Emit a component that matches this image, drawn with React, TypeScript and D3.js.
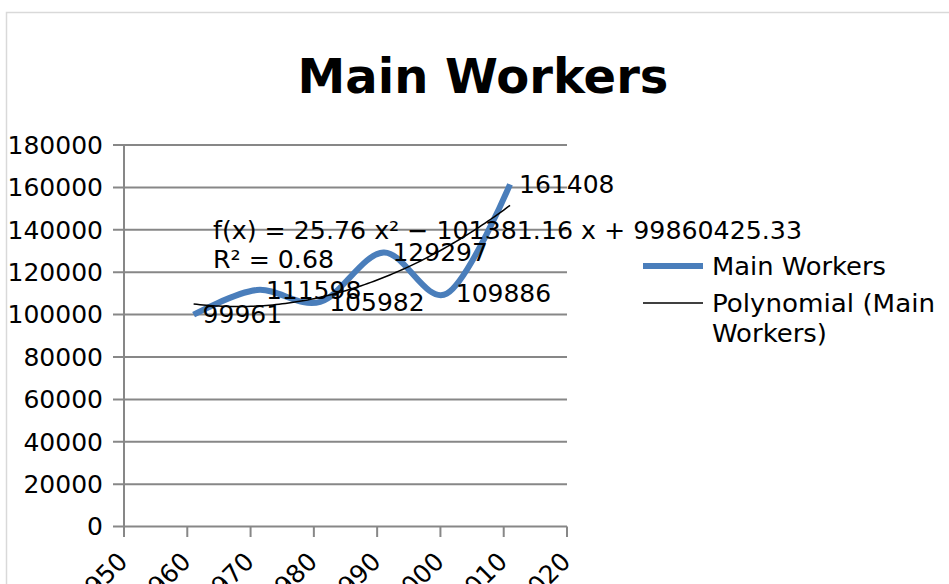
import React from "react";
import * as d3 from "d3";

// Census years and main workers count
const years = [1961, 1971, 1981, 1991, 2001, 2011];
const workers = [99961, 111598, 105982, 129297, 109886, 161408];
const yTicks = [0, 20000, 40000, 60000, 80000, 100000, 120000, 140000, 160000, 180000];
const xTicks = [1950, 1960, 1970, 1980, 1990, 2000, 2010, 2020];
const equationText = "f(x) = 25.76 x² − 101381.16 x + 99860425.33";
const rSquaredText = "R² = 0.68";

const W = 949;
const H = 584;
const FONT = "'DejaVu Sans', sans-serif";
const FS = 25;

// least squares fit of a 2nd order polynomial (centred on mean year)
function fitQuadratic(xs: number[], ys: number[]) {
  const mx = d3.mean(xs) as number;
  const t = xs.map(x => x - mx);
  const n = xs.length;
  const s1 = d3.sum(t);
  const s2 = d3.sum(t, v => v * v);
  const s3 = d3.sum(t, v => v ** 3);
  const s4 = d3.sum(t, v => v ** 4);
  const sy = d3.sum(ys);
  const sty = d3.sum(t.map((v, i) => v * ys[i]));
  const st2y = d3.sum(t.map((v, i) => v * v * ys[i]));
  // solve the 3x3 normal equations (Cramer)
  const A = [
    [n, s1, s2],
    [s1, s2, s3],
    [s2, s3, s4],
  ];
  const B = [sy, sty, st2y];
  const det = (m: number[][]) =>
    m[0][0] * (m[1][1] * m[2][2] - m[1][2] * m[2][1]) -
    m[0][1] * (m[1][0] * m[2][2] - m[1][2] * m[2][0]) +
    m[0][2] * (m[1][0] * m[2][1] - m[1][1] * m[2][0]);
  const D = det(A);
  const coef = [0, 1, 2].map(k => {
    const m = A.map((row, i) => row.map((v, j) => (j === k ? B[i] : v)));
    return det(m) / D;
  });
  return (x: number) => coef[0] + coef[1] * (x - mx) + coef[2] * (x - mx) ** 2;
}

const App = () => {
  const x = d3.scaleLinear().domain([1950, 2020]).range([124, 567]);
  const y = d3.scaleLinear().domain([0, 180000]).range([526.6, 145]);

  const pts: [number, number][] = years.map((yr, i) => [x(yr), y(workers[i])]);
  const smooth = d3.line().curve(d3.curveCardinal.tension(0))(pts) || "";

  const trend = fitQuadratic(years, workers);
  const trendPts: [number, number][] = d3
    .range(years[0], years[years.length - 1] + 0.01, 0.5)
    .map(yr => [x(yr), y(trend(yr))]);
  const trendPath = d3.line()(trendPts) || "";

  const gridColor = "#878787";

  return (
    <svg
      width={W}
      height={H}
      style={{ position: "absolute", left: 0, top: 0, background: "#fff" }}
      fontFamily={FONT}
    >
      <rect x={6.5} y={12.5} width={W} height={H} fill="#fff" stroke="#d9d9d9" strokeWidth={1.5} />

      <text x={483} y={93} textAnchor="middle" fontSize={48} fontWeight="bold" fill="#000">
        Main Workers
      </text>

      {/* gridlines + y ticks */}
      {yTicks.map(v => (
        <g key={v}>
          <line x1={113} x2={567} y1={y(v)} y2={y(v)} stroke={gridColor} strokeWidth={2} />
          <text x={103} y={y(v)} dy="0.35em" textAnchor="end" fontSize={FS} fill="#000">
            {v}
          </text>
        </g>
      ))}
      <line x1={124} x2={124} y1={y(180000)} y2={537} stroke={gridColor} strokeWidth={2} />

      {/* x ticks */}
      {xTicks.map(v => (
        <g key={v}>
          <line x1={x(v)} x2={x(v)} y1={y(0)} y2={537} stroke={gridColor} strokeWidth={2} />
          <text
            transform={`translate(${x(v) + 5},${563}) rotate(-45)`}
            textAnchor="end"
            fontSize={FS}
            fill="#000"
          >
            {v}
          </text>
        </g>
      ))}

      {/* series */}
      <path d={smooth} fill="none" stroke="#4a7ebb" strokeWidth={6} strokeLinecap="butt" />
      <path d={trendPath} fill="none" stroke="#000" strokeWidth={1.5} />

      {/* data labels */}
      {pts.map(([px, py], i) => (
        <text key={i} x={px + 9} y={py} dy="0.35em" fontSize={FS} fill="#000">
          {workers[i]}
        </text>
      ))}

      {/* trendline equation */}
      <text x={213} y={239} fontSize={FS} fill="#000" textLength={589} lengthAdjust="spacingAndGlyphs">
        {equationText}
      </text>
      <text x={213} y={268} fontSize={FS} fill="#000" textLength={121} lengthAdjust="spacingAndGlyphs">
        {rSquaredText}
      </text>

      {/* legend */}
      <line x1={643} x2={703} y1={266} y2={266} stroke="#4a7ebb" strokeWidth={6} />
      <text x={712} y={266} dy="0.35em" fontSize={FS} fill="#000" textLength={174} lengthAdjust="spacingAndGlyphs">
        Main Workers
      </text>
      <line x1={643} x2={703} y1={303} y2={303} stroke="#000" strokeWidth={1.5} />
      <text x={712} y={303} dy="0.35em" fontSize={FS} fill="#000" textLength={223} lengthAdjust="spacingAndGlyphs">
        Polynomial (Main
      </text>
      <text x={712} y={333} dy="0.35em" fontSize={FS} fill="#000" textLength={115} lengthAdjust="spacingAndGlyphs">
        Workers)
      </text>
    </svg>
  );
};

export default App;
